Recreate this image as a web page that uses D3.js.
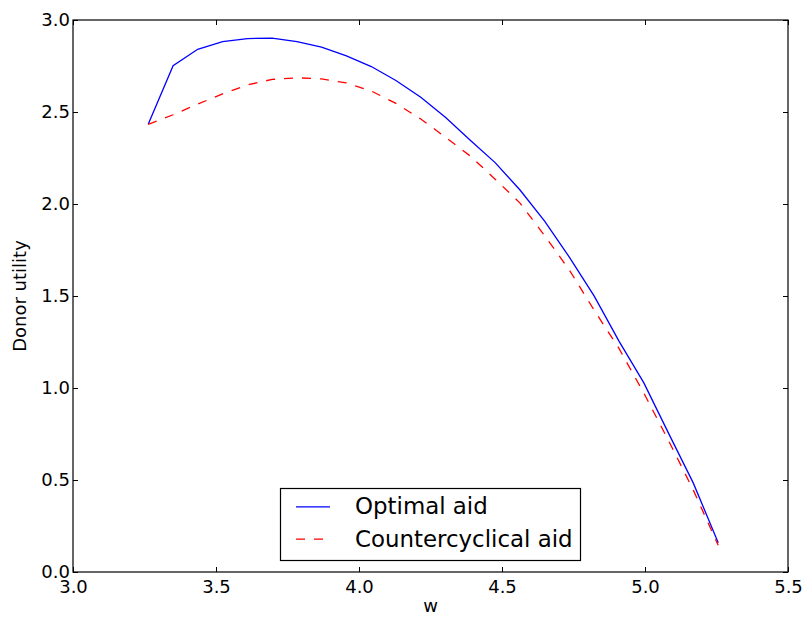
<!DOCTYPE html>
<html>
<head>
<meta charset="utf-8">
<script src="https://cdn.jsdelivr.net/npm/d3@7"></script>
<style>
  html, body { margin: 0; padding: 0; background: #fff; }
  svg { display: block; font-family: "DejaVu Sans", sans-serif; }
</style>
</head>
<body>
<svg id="chart" width="807" height="618"></svg>
<script>
// Data
const wValues = [3.263, 3.350, 3.436, 3.523, 3.610, 3.696, 3.783, 3.869, 3.956, 4.043,
                 4.129, 4.216, 4.303, 4.389, 4.476, 4.563, 4.649, 4.736, 4.823, 4.909,
                 4.996, 5.083, 5.169, 5.256];
const optimalAid = [2.433, 2.752, 2.841, 2.882, 2.899, 2.902, 2.882, 2.852, 2.805, 2.747,
                    2.671, 2.580, 2.470, 2.347, 2.225, 2.076, 1.907, 1.710, 1.498, 1.255,
                    1.028, 0.752, 0.483, 0.159];
const countercyclicalAid = [2.433, 2.485, 2.543, 2.598, 2.647, 2.677, 2.686, 2.680, 2.658, 2.614,
                            2.547, 2.462, 2.362, 2.261, 2.135, 2.005, 1.828, 1.640, 1.421, 1.215,
                            0.972, 0.712, 0.445, 0.145];
const xTicks = [3.0, 3.5, 4.0, 4.5, 5.0, 5.5];
const yTicks = [0.0, 0.5, 1.0, 1.5, 2.0, 2.5, 3.0];
const seriesNames = ["Optimal aid", "Countercyclical aid"];

const svg = d3.select("#chart");
const mLeft = 73, mRight = 788, mTop = 20, mBottom = 572;

const x = d3.scaleLinear().domain([3.0, 5.5]).range([mLeft, mRight]);
const y = d3.scaleLinear().domain([0.0, 3.0]).range([mBottom, mTop]);

const tickLen = 5;
const tickFont = 18;

// Lines
const line = d3.line().x(d => x(d[0])).y(d => y(d[1]));
const optData = wValues.map((w, i) => [w, optimalAid[i]]);
const ccData = wValues.map((w, i) => [w, countercyclicalAid[i]]);

const plot = svg.append("g");
plot.append("path").datum(optData)
  .attr("d", line).attr("fill", "none")
  .attr("stroke", "#0000ff").attr("stroke-width", 1.3);
plot.append("path").datum(ccData)
  .attr("d", line).attr("fill", "none")
  .attr("stroke", "#ff0000").attr("stroke-width", 1.3)
  .attr("stroke-dasharray", "9,9");

// Axes (ticks pointing inward on all four sides)
const xAxisB = d3.axisBottom(x).tickValues(xTicks).tickFormat(d3.format(".1f"))
  .tickSizeInner(-tickLen).tickSizeOuter(0).tickPadding(8);
const xAxisT = d3.axisTop(x).tickValues(xTicks).tickFormat("")
  .tickSizeInner(-tickLen).tickSizeOuter(0);
const yAxisL = d3.axisLeft(y).tickValues(yTicks).tickFormat(d3.format(".1f"))
  .tickSizeInner(-tickLen).tickSizeOuter(0).tickPadding(3);
const yAxisR = d3.axisRight(y).tickValues(yTicks).tickFormat("")
  .tickSizeInner(-tickLen).tickSizeOuter(0);

function styleAxis(g) {
  g.select(".domain").remove();
  g.selectAll(".tick line").attr("stroke", "#000").attr("stroke-width", 1);
  g.selectAll(".tick text").attr("fill", "#000")
    .style("font-size", tickFont + "px").style("font-family", "'DejaVu Sans', sans-serif");
}

svg.append("g").attr("transform", `translate(0,${mBottom})`).call(xAxisB).call(styleAxis)
  .selectAll(".tick text").attr("dy", "0.71em").attr("y", 8);
svg.append("g").attr("transform", `translate(0,${mTop})`).call(xAxisT).call(styleAxis);
svg.append("g").attr("transform", `translate(${mLeft},0)`).call(yAxisL).call(styleAxis);
svg.append("g").attr("transform", `translate(${mRight},0)`).call(yAxisR).call(styleAxis);

// Frame
svg.append("rect")
  .attr("x", mLeft).attr("y", mTop)
  .attr("width", mRight - mLeft).attr("height", mBottom - mTop)
  .attr("fill", "none").attr("stroke", "#000").attr("stroke-width", 1.2);

// Axis labels
svg.append("text")
  .attr("x", (mLeft + mRight) / 2).attr("y", 611.5)
  .attr("text-anchor", "middle").style("font-size", "18px").text("w");
svg.append("text")
  .attr("transform", `translate(26,${(mTop + mBottom) / 2}) rotate(-90)`)
  .attr("text-anchor", "middle").style("font-size", "18px").text("Donor utility");

// Legend
const lg = svg.append("g");
lg.append("rect")
  .attr("x", 280.5).attr("y", 488.5).attr("width", 300).attr("height", 72)
  .attr("fill", "#fff").attr("stroke", "#000").attr("stroke-width", 1.2);
const legendColors = ["#0000ff", "#ff0000"];
const legendDash = [null, "9,9"];
const legendBase = [514.3, 546.7];
seriesNames.forEach((name, i) => {
  const yy = legendBase[i] - 7.5;
  lg.append("line")
    .attr("x1", 296).attr("x2", 330).attr("y1", yy).attr("y2", yy)
    .attr("stroke", legendColors[i]).attr("stroke-width", 1.3)
    .attr("stroke-dasharray", legendDash[i]);
  lg.append("text")
    .attr("x", 355).attr("y", legendBase[i])
    .style("font-size", "22.9px").text(name);
});
</script>
</body>
</html>
